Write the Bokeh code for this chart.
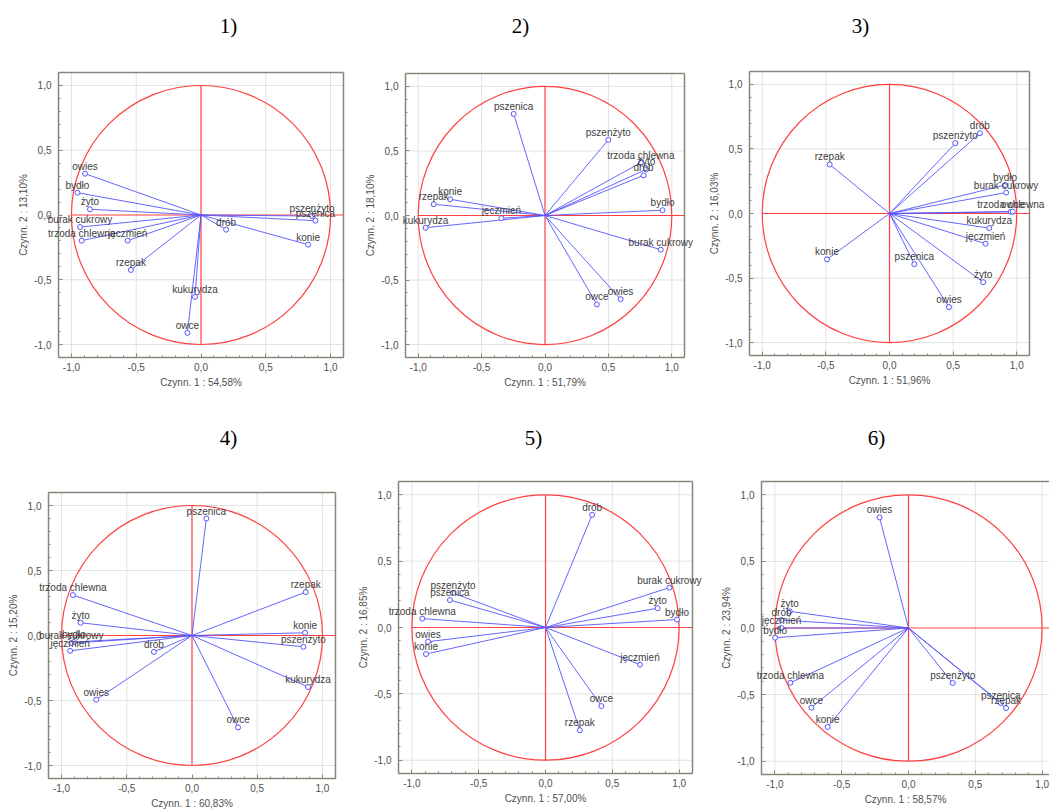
import numpy as np
from bokeh.plotting import figure
from bokeh.layouts import row, column
from bokeh.models import ColumnDataSource, FixedTicker, LabelSet, Label
from bokeh.core.properties import value
from bokeh.embed import file_html
from bokeh.resources import INLINE

# ---------------- data ----------------
titles = ["1)", "2)", "3)", "4)", "5)", "6)"]
xlabels = ["Czynn. 1 : 54,58%", "Czynn. 1 : 51,79%", "Czynn. 1 : 51,96%",
           "Czynn. 1 : 60,83%", "Czynn. 1 : 57,00%", "Czynn. 1 : 58,57%"]
ylabels = ["Czynn. 2 : 13,10%", "Czynn. 2 : 18,10%", "Czynn. 2 : 16,03%",
           "Czynn. 2 : 15,20%", "Czynn. 2 : 16,85%", "Czynn. 2 : 23,94%"]

tick_values = [-1.0, -0.5, 0.0, 0.5, 1.0]
tick_labels = ["-1,0", "-0,5", "0,0", "0,5", "1,0"]
grid_values = [-1.0, -0.5, 0.5, 1.0]

names1 = ["owies", "bydło", "żyto", "burak cukrowy", "trzoda chlewna", "jęczmień", "rzepak",
          "kukurydza", "owce", "drób", "konie", "pszenżyto", "pszenica"]
x1 = [-0.895, -0.954, -0.857, -0.934, -0.921, -0.566, -0.541, -0.046, -0.105, 0.194, 0.827, 0.857, 0.883]
y1 = [0.319, 0.172, 0.044, -0.093, -0.198, -0.198, -0.424, -0.632, -0.910, -0.113, -0.229, -0.008, -0.044]

names2 = ["pszenica", "pszenżyto", "trzoda chlewna", "żyto", "drób", "bydło", "burak cukrowy",
          "owies", "owce", "kukurydza", "rzepak", "konie", "jęczmień"]
x2 = [-0.247, 0.499, 0.756, 0.798, 0.777, 0.927, 0.913, 0.596, 0.409, -0.942, -0.877, -0.748, -0.344]
y2 = [0.787, 0.586, 0.409, 0.357, 0.311, 0.041, -0.265, -0.648, -0.689, -0.095, 0.087, 0.126, -0.021]

names3 = ["drób", "pszenżyto", "rzepak", "bydło", "burak cukrowy", "trzoda chlewna", "owce",
          "kukurydza", "jęczmień", "pszenica", "żyto", "owies", "konie"]
x3 = [0.710, 0.517, -0.470, 0.908, 0.916, 0.953, 0.968, 0.784, 0.755, 0.195, 0.736, 0.467, -0.491]
y3 = [0.622, 0.545, 0.380, 0.221, 0.162, 0.013, 0.015, -0.113, -0.234, -0.393, -0.532, -0.725, -0.355]

names4 = ["pszenica", "rzepak", "konie", "pszenżyto", "kukurydza", "owce", "owies", "drób",
          "trzoda chlewna", "żyto", "bydło", "burak cukrowy", "jęczmień"]
x4 = [0.110, 0.872, 0.867, 0.854, 0.890, 0.353, -0.734, -0.292, -0.913, -0.854, -0.905, -0.925, -0.934]
y4 = [0.900, 0.334, 0.021, -0.087, -0.396, -0.707, -0.494, -0.126, 0.311, 0.098, -0.050, -0.058, -0.118]

names5 = ["drób", "burak cukrowy", "żyto", "bydło", "jęczmień", "owce", "rzepak", "pszenżyto",
          "pszenica", "trzoda chlewna", "owies", "konie"]
x5 = [0.349, 0.927, 0.839, 0.984, 0.707, 0.418, 0.257, -0.692, -0.715, -0.922, -0.879, -0.894]
y5 = [0.849, 0.300, 0.145, 0.060, -0.280, -0.592, -0.774, 0.260, 0.207, 0.067, -0.107, -0.200]

names6 = ["owies", "żyto", "drób", "jęczmień", "bydło", "trzoda chlewna", "owce", "konie",
          "pszenżyto", "pszenica", "rzepak"]
x6 = [-0.217, -0.889, -0.950, -0.950, -0.998, -0.884, -0.727, -0.605, 0.331, 0.690, 0.730]
y6 = [0.831, 0.125, 0.060, 0.000, -0.073, -0.411, -0.598, -0.743, -0.413, -0.563, -0.601]

panels = [(names1, x1, y1), (names2, x2, y2), (names3, x3, y3),
          (names4, x4, y4), (names5, x5, y5), (names6, x6, y6)]

# ---------------- layout (page pixels) ----------------
# figure x0, y0, width, height; plot box left, right, top, bottom; title centre x, y
geom = [
    (0,   0,   350, 410, 58,  343,  72,  357, 228, 25),
    (350, 0,   345, 410, 405, 684,  73,  357, 520, 25),
    (695, 0,   354, 410, 749, 1029, 71,  355, 860, 25),
    (0,   410, 350, 399, 48,  335,  492, 778, 228, 437),
    (350, 410, 356, 399, 398, 692,  481, 773, 533, 437),
    (706, 410, 343, 399, 761, 1055, 481, 774, 876, 437),
]
LIM = 1.1

FRAME = "#86867a"
TXT = "#505050"
RED = "#ff4040"
BLUE = "#5555ff"
GRID = "#e2e2e2"
FONT = "Liberation Sans"

minor = list(np.round(np.arange(-1.1, 1.11, 0.1), 2))


def make_panel(i):
    names, xs, ys = panels[i]
    fx, fy, w, h, L, R, T, B, tcx, tcy = geom[i]
    # ranges chosen so that the box [-LIM, LIM] lands on the plot box pixels
    kx = (R - L) / (2 * LIM)
    ky = (B - T) / (2 * LIM)
    xr = (-LIM - (L - fx) / kx, LIM + (fx + w - R) / kx)
    yr = (-LIM - (fy + h - B) / ky, LIM + (T - fy) / ky)
    p = figure(width=w, height=h, x_range=xr, y_range=yr, min_border=0,
               output_backend="svg", toolbar_location=None)
    p.outline_line_color = None
    p.background_fill_color = "white"
    p.border_fill_color = "white"
    p.grid.visible = False

    for ax in (p.xaxis[0], p.yaxis[0]):
        ax.fixed_location = -LIM
        ax.bounds = (-LIM, LIM)
        ax.ticker = FixedTicker(ticks=tick_values, minor_ticks=minor)
        ax.major_label_overrides = {v: s for v, s in zip(tick_values, tick_labels)}
        ax.major_tick_in = 4
        ax.major_tick_out = 0
        ax.minor_tick_in = 2
        ax.minor_tick_out = 0
        ax.axis_line_color = FRAME
        ax.axis_line_width = 1.5
        ax.major_tick_line_color = FRAME
        ax.minor_tick_line_color = FRAME
        ax.major_label_text_font = FONT
        ax.major_label_text_font_size = "10px"
        ax.major_label_text_color = TXT
        ax.axis_label_text_font = FONT
        ax.axis_label_text_font_size = "10px"
        ax.axis_label_text_font_style = "normal"
        ax.axis_label_text_color = TXT
        ax.major_label_standoff = 5
        ax.axis_label_standoff = 3
    p.yaxis[0].major_label_standoff = 7
    p.yaxis[0].axis_label_standoff = 2
    p.xaxis[0].axis_label = xlabels[i]
    p.yaxis[0].axis_label = ylabels[i]

    # grid lines inside the plot box
    n = len(grid_values)
    p.segment(x0=grid_values, y0=[-LIM] * n, x1=grid_values, y1=[LIM] * n, line_color=GRID, line_width=1)
    p.segment(x0=[-LIM] * n, y0=grid_values, x1=[LIM] * n, y1=grid_values, line_color=GRID, line_width=1)
    # top and right frame edges
    p.segment(x0=[-LIM, LIM], y0=[LIM, -LIM], x1=[LIM, LIM], y1=[LIM, LIM], line_color=FRAME, line_width=1.5)

    # unit circle and reference axes
    p.ellipse(x=0, y=0, width=2, height=2, fill_color=None, line_color=RED, line_width=1.2)
    p.segment(x0=[0, -1], y0=[-1, 0], x1=[0, LIM], y1=[1, 0], line_color=RED, line_width=1.2)

    src = ColumnDataSource(dict(x0=[0.0] * len(xs), y0=[0.0] * len(xs), x=xs, y=ys, name=names))
    p.segment(x0="x0", y0="y0", x1="x", y1="y", source=src, line_color=BLUE, line_width=1, line_alpha=0.9)
    p.scatter(x="x", y="y", source=src, marker="circle", size=5, line_color=BLUE,
              fill_color="white", line_width=1)
    p.add_layout(LabelSet(x="x", y="y", text="name", source=src, text_align="center",
                          text_baseline="bottom", y_offset=2, text_font=value(FONT),
                          text_font_size=value("10px"), text_color=value("#404040")))

    # panel title (screen units: from the bottom-left of the frame, which fills the figure)
    p.add_layout(Label(x=tcx - fx, y=(fy + h) - tcy, x_units="screen", y_units="screen",
                       text=titles[i], text_align="center", text_baseline="middle",
                       text_font="Liberation Serif", text_font_size="21px", text_color="black"))
    return p


figs = [make_panel(i) for i in range(6)]
layout = column(row(*figs[:3], spacing=0), row(*figs[3:], spacing=0), spacing=0)

open("out.html", "w").write(file_html(layout, INLINE))
